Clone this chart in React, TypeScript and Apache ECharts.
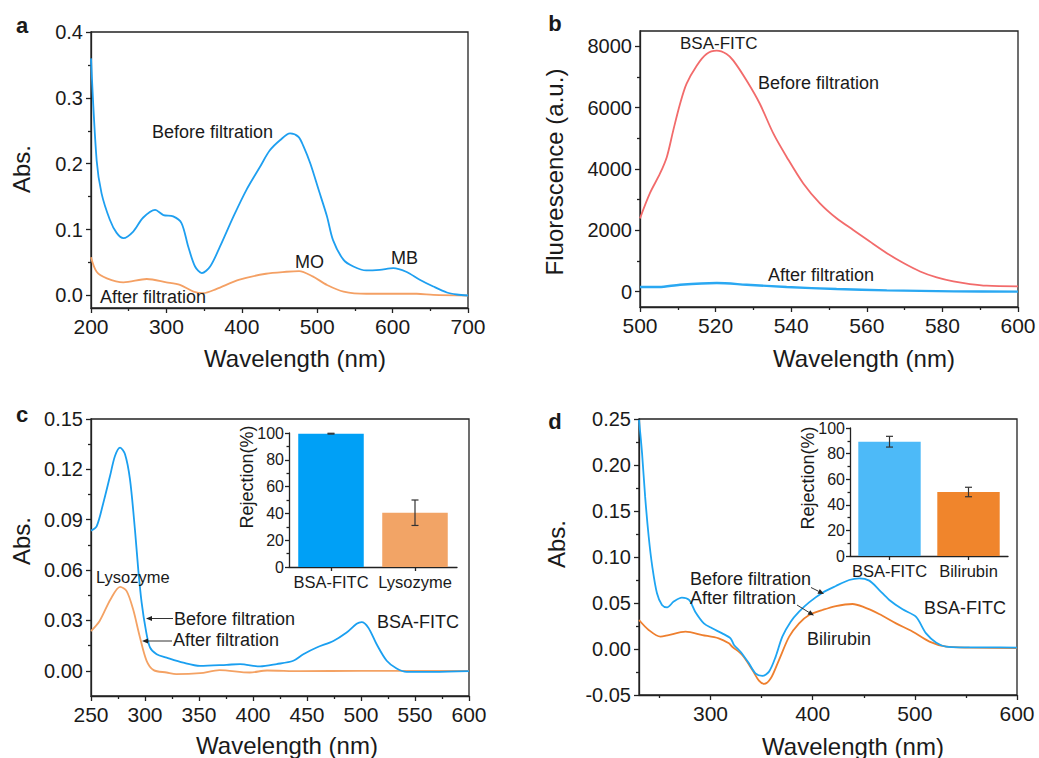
import React, { useEffect, useRef } from "react";
import * as echarts from "echarts";

const FONT = '"Liberation Sans", Arial, Helvetica, sans-serif';
const INK = "#1a1a1a";
const AXIS = "#222222";

// ---------- Panel a : UV-vis, MO / MB ----------
const aBeforeX = [200, 207.5, 214, 225, 234, 243, 256, 269, 285, 296, 309, 320, 329, 338, 347, 358, 371, 389, 406, 424, 437, 451, 464, 475, 482, 491, 502, 513, 521, 535, 548, 565, 583, 601, 618, 636, 654, 672, 685, 700];
const aBeforeY = [0.36, 0.205, 0.155, 0.115, 0.095, 0.087, 0.097, 0.118, 0.13, 0.122, 0.12, 0.11, 0.074, 0.044, 0.034, 0.044, 0.074, 0.12, 0.16, 0.195, 0.22, 0.236, 0.246, 0.241, 0.226, 0.2, 0.16, 0.12, 0.084, 0.054, 0.044, 0.038, 0.039, 0.0415, 0.036, 0.024, 0.0136, 0.0045, 0.0015, 0.0];
const aAfterX = [200, 207.5, 221, 243, 274, 300, 318, 336, 349, 366, 397, 432, 459, 476, 494, 513, 535, 565, 632, 654, 700];
const aAfterY = [0.058, 0.036, 0.026, 0.02, 0.025, 0.02, 0.016, 0.006, 0.0036, 0.0097, 0.024, 0.033, 0.036, 0.037, 0.029, 0.016, 0.006, 0.0026, 0.0026, 0.001, 0.0];
const aXTicks = [200, 300, 400, 500, 600, 700];
const aXMinor = [250, 350, 450, 550, 650];
const aYTicks = [0, 0.1, 0.2, 0.3, 0.4];
const aYMinor = [0.05, 0.15, 0.25, 0.35];

// ---------- Panel b : fluorescence ----------
const bBeforeX = [500, 502.6, 505.3, 507.1, 508.8, 510.6, 512.3, 515, 517.6, 520.3, 522.9, 524.7, 528.2, 531.7, 535.3, 538.8, 543.2, 547.6, 552, 556.4, 560.8, 565.3, 569.7, 574.1, 578.5, 582.9, 587.3, 591.7, 600];
const bBeforeY = [2392, 3205, 3854, 4394, 5260, 6127, 6776, 7370, 7750, 7858, 7750, 7533, 6884, 6127, 5152, 4394, 3529, 2880, 2393, 2013, 1633, 1256, 932, 659, 464, 334, 249, 195, 173];
const bAfterX = [500, 505, 510.6, 520.3, 528.2, 538.8, 552, 565.3, 583, 600];
const bAfterY = [152, 152, 227, 281, 227, 152, 87, 43, 11, 0];
const bXTicks = [500, 520, 540, 560, 580, 600];
const bXMinor = [510, 530, 550, 570, 590];
const bYTicks = [0, 2000, 4000, 6000, 8000];
const bYMinor = [1000, 3000, 5000, 7000];

// ---------- Panel c : lysozyme / BSA-FITC ----------
const cBeforeX = [250, 255.2, 261.4, 267.6, 272.2, 276.9, 281.5, 286.1, 290.7, 293.8, 296.9, 300.6, 304.6, 310.8, 320, 335.5, 350.9, 375.6, 388, 406.5, 421.9, 437.3, 446.6, 459, 474.4, 486.7, 496, 500.6, 506.8, 514.5, 523.8, 533, 542.3, 567, 600];
const cBeforeY = [0.0835, 0.086, 0.1, 0.116, 0.128, 0.133, 0.129, 0.114, 0.084, 0.06, 0.0406, 0.025, 0.014, 0.0099, 0.0079, 0.0049, 0.003, 0.0036, 0.004, 0.0026, 0.004, 0.006, 0.0099, 0.0139, 0.0178, 0.0228, 0.028, 0.029, 0.0257, 0.0158, 0.006, 0.0014, -0.0006, -0.0006, -0.0002];
const cAfterX = [250, 258, 268, 277, 283, 289, 295, 301.5, 308, 320, 329, 351, 369, 397, 413, 444, 500, 600];
const cAfterY = [0.0237, 0.0297, 0.0425, 0.05, 0.0475, 0.0366, 0.0208, 0.0059, 0.0004, -0.001, -0.002, -0.0014, 0.0004, -0.001, 0.0002, -0.0002, 0.0, 0.0];
const cXTicks = [250, 300, 350, 400, 450, 500, 550, 600];
const cXMinor = [275, 325, 375, 425, 475, 525, 575];
const cYTicks = [0, 0.03, 0.06, 0.09, 0.12, 0.15];
const cYMinor = [0.015, 0.045, 0.075, 0.105, 0.135];
const cInsetCats = ["BSA-FITC", "Lysozyme"];
const cInsetVals = [99.5, 40.5];
const cInsetErr = [0.3, 9.5];

// ---------- Panel d : bilirubin / BSA-FITC ----------
const dBeforeX = [230, 233, 236, 239.5, 243, 247.6, 252.5, 257.5, 264, 272, 279, 285, 293.5, 301.6, 311.5, 319.6, 323, 329.4, 337.6, 344, 350.7, 357.3, 363.8, 370.3, 378.5, 386.7, 396.5, 409.6, 422.7, 435.8, 445.6, 455.4, 465.2, 475, 488, 501, 511, 521, 530.7, 543.8, 570, 600];
const dBeforeY = [0.249, 0.2127, 0.1656, 0.122, 0.0895, 0.0605, 0.0478, 0.0453, 0.0515, 0.0558, 0.0533, 0.0406, 0.0279, 0.0225, 0.017, 0.0116, 0.0044, -0.003, -0.0156, -0.0264, -0.0293, -0.0246, -0.0083, 0.0134, 0.0297, 0.0406, 0.0507, 0.0612, 0.0685, 0.075, 0.0768, 0.0743, 0.0641, 0.0533, 0.0431, 0.0351, 0.017, 0.0069, 0.0025, 0.0018, 0.0018, 0.0015];
const dAfterX = [230, 239.5, 251, 259, 275.5, 292, 308, 318, 321.3, 331, 341, 347.4, 352.4, 359, 367, 377, 386.7, 396.5, 409.6, 422.7, 439, 449, 465, 481.6, 498, 514.3, 530.7, 553.6, 600];
const dAfterY = [0.0315, 0.0207, 0.0134, 0.0152, 0.0188, 0.0152, 0.0116, 0.0062, 0.0025, -0.0065, -0.0228, -0.0344, -0.038, -0.0319, -0.012, 0.0134, 0.0279, 0.037, 0.0424, 0.0467, 0.0489, 0.046, 0.038, 0.0279, 0.0188, 0.008, 0.0025, 0.0015, 0.001];
const dXTicks = [300, 400, 500, 600];
const dXMinor = [250, 350, 450, 550];
const dYTicks = [-0.05, 0, 0.05, 0.1, 0.15, 0.2, 0.25];
const dYMinor = [-0.025, 0.025, 0.075, 0.125, 0.175, 0.225];
const dInsetCats = ["BSA-FITC", "Bilirubin"];
const dInsetVals = [89.3, 50];
const dInsetErr = [4.2, 3.7];

const zip = (xs: number[], ys: number[]) => xs.map((x, i) => [x, ys[i]]);

const axisLineStyle = { color: AXIS, width: 1.3 };

function mainAxis(dim: "x" | "y", grid: number, min: number, max: number, ticks: number[], fmt: (v: number) => string, fontSize: number) {
  return {
    type: "value",
    gridIndex: grid,
    position: dim === "x" ? "bottom" : "left",
    min,
    max,
    axisLine: { show: true, onZero: false, lineStyle: axisLineStyle },
    axisTick: { show: true, inside: false, length: 5, customValues: ticks, lineStyle: axisLineStyle },
    axisLabel: {
      show: true,
      customValues: ticks,
      formatter: (v: number) => fmt(v),
      fontSize,
      color: INK,
      fontFamily: FONT,
      margin: 8,
    },
    splitLine: { show: false },
    minorTick: { show: false },
  };
}

function minorAxis(dim: "x" | "y", grid: number, min: number, max: number, ticks: number[]) {
  return {
    type: "value",
    gridIndex: grid,
    position: dim === "x" ? "bottom" : "left",
    min,
    max,
    axisLine: { show: false, onZero: false },
    axisTick: { show: true, inside: false, length: 3, customValues: ticks, lineStyle: axisLineStyle },
    axisLabel: { show: false },
    splitLine: { show: false },
  };
}

function lineSeries(xi: number, data: number[][], color: string, width = 1.8) {
  return {
    type: "line",
    xAxisIndex: xi,
    yAxisIndex: xi,
    data,
    symbol: "none",
    showSymbol: false,
    smooth: 0.3,
    lineStyle: { color, width },
    z: 3,
  };
}

function insetX(grid: number, cats: string[]) {
  return {
    type: "category",
    gridIndex: grid,
    position: "bottom",
    data: cats,
    axisLine: { show: true, onZero: false, lineStyle: axisLineStyle },
    axisTick: { show: true, alignWithLabel: true, length: 4, lineStyle: axisLineStyle },
    axisLabel: { interval: 0, fontSize: 16.5, color: INK, fontFamily: FONT, margin: 6, hideOverlap: false },
  };
}

function insetY(grid: number) {
  return {
    type: "value",
    gridIndex: grid,
    position: "left",
    min: 0,
    max: 100,
    interval: 20,
    axisLine: { show: true, onZero: false, lineStyle: axisLineStyle },
    axisTick: { show: true, length: 4, lineStyle: axisLineStyle },
    minorTick: { show: true, splitNumber: 2, length: 2.5, lineStyle: axisLineStyle },
    axisLabel: { fontSize: 16, color: INK, fontFamily: FONT, margin: 5 },
    splitLine: { show: false },
  };
}

function barSeries(idx: number, vals: number[], colors: string[], gap: string) {
  return {
    type: "bar",
    xAxisIndex: idx,
    yAxisIndex: idx,
    barCategoryGap: gap,
    data: vals.map((v, i) => ({ value: v, itemStyle: { color: colors[i] } })),
    z: 5,
  };
}

function errSeries(idx: number, vals: number[], errs: number[]) {
  return {
    type: "custom",
    xAxisIndex: idx,
    yAxisIndex: idx,
    z: 6,
    data: vals.map((v, i) => [i, v, errs[i]]),
    encode: { x: 0, y: 1 },
    renderItem: (_p: any, api: any) => {
      const i = api.value(0);
      const v = api.value(1);
      const e = api.value(2);
      const hi = api.coord([i, v + e]);
      const lo = api.coord([i, v - e]);
      const h = 3.5;
      const st = { stroke: "#333", lineWidth: 1.2 };
      return {
        type: "group",
        children: [
          { type: "line", shape: { x1: hi[0], y1: hi[1], x2: lo[0], y2: lo[1] }, style: st },
          { type: "line", shape: { x1: hi[0] - h, y1: hi[1], x2: hi[0] + h, y2: hi[1] }, style: st },
          { type: "line", shape: { x1: lo[0] - h, y1: lo[1], x2: lo[0] + h, y2: lo[1] }, style: st },
        ],
      };
    },
  };
}

function txt(x: number, y: number, text: string, size: number, opt: any = {}) {
  const align = opt.align || "left";
  return {
    type: "text",
    x,
    y,
    rotation: opt.rotation || 0,
    z: 100,
    style: {
      text,
      fill: INK,
      fontSize: size,
      fontFamily: FONT,
      fontWeight: opt.bold ? "bold" : "normal",
      align,
      textAlign: align,
      verticalAlign: "middle",
      textVerticalAlign: "middle",
    },
  };
}

function arrow(x1: number, y1: number, x2: number, y2: number) {
  const dx = x2 - x1;
  const dy = y2 - y1;
  const L = Math.sqrt(dx * dx + dy * dy);
  const ux = dx / L;
  const uy = dy / L;
  const hl = 6;
  const hw = 2.6;
  const bx = x2 - ux * hl;
  const by = y2 - uy * hl;
  return [
    { type: "line", z: 100, shape: { x1, y1, x2: bx, y2: by }, style: { stroke: "#333", lineWidth: 1 } },
    {
      type: "polygon",
      z: 100,
      shape: { points: [[x2, y2], [bx - uy * hw, by + ux * hw], [bx + uy * hw, by - ux * hw]] },
      style: { fill: "#222" },
    },
  ];
}

const fmt0 = (v: number) => String(v);
const fmt1 = (v: number) => v.toFixed(1);
const fmt2 = (v: number) => v.toFixed(2);

export default function App() {
  const ref = useRef<HTMLDivElement>(null);

  useEffect(() => {
    if (!ref.current) return;
    const chart = echarts.init(ref.current, undefined, { renderer: "svg" });
    const frame = { show: true, borderColor: AXIS, borderWidth: 1.3, backgroundColor: "transparent" };
    const R = Math.PI / 2;

    const option: any = {
      animation: false,
      backgroundColor: "#ffffff",
      grid: [
        { left: 91, top: 32, width: 377, height: 276, ...frame },
        { left: 640, top: 31, width: 378, height: 276, ...frame },
        { left: 91, top: 419, width: 378, height: 277, ...frame },
        { left: 639, top: 419, width: 378, height: 276, ...frame },
        { left: 289, top: 433, width: 168, height: 134, show: false },
        { left: 850, top: 428, width: 158, height: 128, show: false },
      ],
      xAxis: [
        mainAxis("x", 0, 200, 700, aXTicks, fmt0, 21),
        minorAxis("x", 0, 200, 700, aXMinor),
        mainAxis("x", 1, 500, 600, bXTicks, fmt0, 21),
        minorAxis("x", 1, 500, 600, bXMinor),
        mainAxis("x", 2, 250, 600, cXTicks, fmt0, 21),
        minorAxis("x", 2, 250, 600, cXMinor),
        mainAxis("x", 3, 230, 600, dXTicks, fmt0, 21),
        minorAxis("x", 3, 230, 600, dXMinor),
        insetX(4, cInsetCats),
        insetX(5, dInsetCats),
      ],
      yAxis: [
        mainAxis("y", 0, -0.019, 0.4, aYTicks, fmt1, 20),
        minorAxis("y", 0, -0.019, 0.4, aYMinor),
        mainAxis("y", 1, -500, 8500, bYTicks, fmt0, 20),
        minorAxis("y", 1, -500, 8500, bYMinor),
        mainAxis("y", 2, -0.015, 0.15, cYTicks, fmt2, 20),
        minorAxis("y", 2, -0.015, 0.15, cYMinor),
        mainAxis("y", 3, -0.05, 0.25, dYTicks, fmt2, 20),
        minorAxis("y", 3, -0.05, 0.25, dYMinor),
        insetY(4),
        insetY(5),
      ],
      series: [
        lineSeries(0, zip(aAfterX, aAfterY), "#F4A064"),
        lineSeries(0, zip(aBeforeX, aBeforeY), "#1E9FF0"),
        lineSeries(2, zip(bBeforeX, bBeforeY), "#F26B6B"),
        lineSeries(2, zip(bAfterX, bAfterY), "#2AA8F2", 2.4),
        lineSeries(4, zip(cAfterX, cAfterY), "#F4A264"),
        lineSeries(4, zip(cBeforeX, cBeforeY), "#1A9FF0"),
        lineSeries(6, zip(dAfterX, dAfterY), "#EE7F2E"),
        lineSeries(6, zip(dBeforeX, dBeforeY), "#1EA5F2"),
        barSeries(8, cInsetVals, ["#00A0F6", "#F2A466"], "22%"),
        errSeries(8, cInsetVals, cInsetErr),
        barSeries(9, dInsetVals, ["#4DBAF8", "#F0852C"], "21%"),
        errSeries(9, dInsetVals, dInsetErr),
      ],
      graphic: {
        elements: [
          txt(22, 25, "a", 22, { bold: true, align: "center" }),
          txt(555, 23, "b", 22, { bold: true, align: "center" }),
          txt(22, 414, "c", 22, { bold: true, align: "center" }),
          txt(555, 421, "d", 22, { bold: true, align: "center" }),

          txt(21, 169, "Abs.", 24, { rotation: R, align: "center" }),
          txt(295, 358, "Wavelength (nm)", 24, { align: "center" }),
          txt(554, 172, "Fluorescence (a.u.)", 24, { rotation: R, align: "center" }),
          txt(864, 358, "Wavelength (nm)", 24, { align: "center" }),
          txt(21, 541, "Abs.", 24, { rotation: R, align: "center" }),
          txt(287, 745, "Wavelength (nm)", 24, { align: "center" }),
          txt(556, 544, "Abs.", 24, { rotation: R, align: "center" }),
          txt(853, 746, "Wavelength (nm)", 24, { align: "center" }),

          txt(152, 132, "Before filtration", 18),
          txt(295, 262, "MO", 18),
          txt(391, 258, "MB", 18),
          txt(100, 297, "After filtration", 18),

          txt(680, 43, "BSA-FITC", 17),
          txt(758, 83, "Before filtration", 18),
          txt(768, 275, "After filtration", 18),

          txt(96, 577, "Lysozyme", 16.5),
          txt(174, 619, "Before filtration", 18),
          txt(173, 640, "After filtration", 18),
          txt(377, 622, "BSA-FITC", 18),
          ...arrow(173, 618.5, 146, 618.5),
          ...arrow(172, 641, 142, 641),
          txt(247, 477, "Rejection(%)", 18, { rotation: R, align: "center" }),

          txt(690, 579, "Before filtration", 18),
          txt(690, 598, "After filtration", 18),
          txt(924, 608, "BSA-FITC", 18),
          txt(807, 639, "Bilirubin", 18),
          ...arrow(811, 587.5, 824, 594),
          ...arrow(797, 605, 814, 615.5),
          txt(808, 478, "Rejection(%)", 18, { rotation: R, align: "center" }),
        ],
      },
    };

    chart.setOption(option);
    return () => chart.dispose();
  }, []);

  return <div ref={ref} style={{ position: "absolute", left: 0, top: 0, width: 1039, height: 758 }} />;
}
